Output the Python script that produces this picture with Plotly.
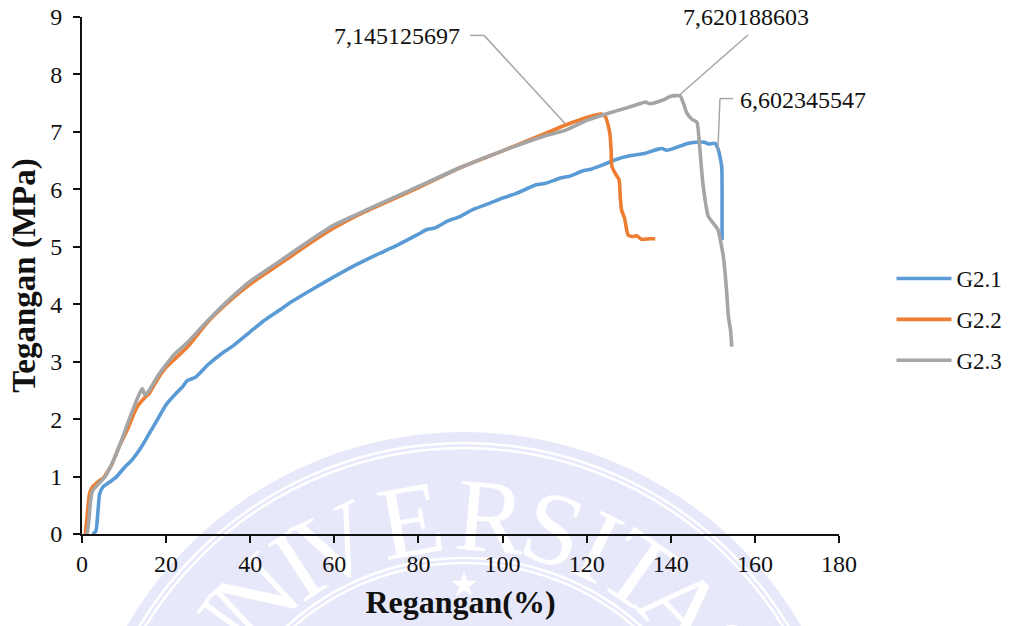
import math
import plotly.graph_objects as go

g21_x = [2.5,3.3,3.8,4.2,5,6.5,8,10,12,14,16,18,20,22,24,25,27,30,33,36,40,43,47,50,55,60,65,70,75,80,82,84,87,90,93,97,100,103,107,108,110,114,116,119,121,124,127,130,134,137,138,139,141,144,146,148,149,150.5,151.3,152.1,152.2,152.2]
g21_y = [0,0.05,0.4,0.7,0.82,0.9,0.98,1.15,1.3,1.5,1.75,2.0,2.25,2.42,2.57,2.67,2.73,2.95,3.13,3.28,3.52,3.7,3.9,4.05,4.27,4.48,4.68,4.86,5.03,5.22,5.3,5.33,5.45,5.53,5.65,5.76,5.85,5.92,6.05,6.08,6.1,6.2,6.23,6.32,6.35,6.43,6.52,6.58,6.63,6.7,6.71,6.68,6.72,6.8,6.82,6.82,6.79,6.8,6.69,6.4,5.6,5.12]
g22_x = [0.8,1.2,1.8,2.5,4,5,7,9,11,13,15,16,18,20,25,30,35,40,45,50,55,60,65,70,80,90,100,110,115,120,122,123.5,124.5,125.5,125.8,126,127,127.7,128,128.3,129,129.5,129.9,131,132,133,135,136.3]
g22_y = [0,0.3,0.7,0.82,0.92,0.97,1.2,1.55,1.85,2.2,2.38,2.45,2.7,2.9,3.25,3.7,4.05,4.35,4.6,4.85,5.1,5.33,5.53,5.7,6.03,6.38,6.67,6.97,7.12,7.25,7.29,7.31,7.26,6.98,6.7,6.4,6.25,6.17,5.85,5.64,5.5,5.3,5.2,5.18,5.19,5.13,5.14,5.14]
g23_x = [1.2,1.6,2,2.5,4,5.5,7,9,11,13,14.3,15,16,18,20,22,25,30,35,40,45,50,55,60,65,70,80,90,100,110,115,120,125,130,133,134,135,138,140,142.2,143,143.8,145,146.2,146.8,147.4,147.8,148.9,150,151.2,152.5,153.2,153.7,154.2,154.5]
g23_y = [0,0.2,0.55,0.75,0.88,1.0,1.2,1.55,1.95,2.33,2.53,2.42,2.5,2.75,2.95,3.13,3.33,3.72,4.08,4.4,4.65,4.9,5.15,5.38,5.55,5.72,6.05,6.38,6.67,6.93,7.03,7.2,7.32,7.43,7.5,7.52,7.49,7.55,7.62,7.63,7.5,7.33,7.22,7.17,6.8,6.28,6.0,5.53,5.42,5.3,4.83,4.3,3.79,3.55,3.26]

x_ticks = list(range(0, 181, 20))
y_ticks = list(range(0, 10))
callout_texts = ["7,145125697", "7,620188603", "6,602345547"]
callout_label_x = [75, 157.9, 171.5]
callout_label_y = [8.67, 9.0, 7.56]
callout_leader_x = [[92.3, 95.6, 114.9], [158.4, 142.2], [154.8, 151.7, 151.2]]
callout_leader_y = [[8.68, 8.68, 7.14], [8.69, 7.65], [7.58, 7.58, 6.69]]
seal_letters = list("UNIVERSITAS")
seal_angles = [-54, -43, -33, -25, -10, 5, 17, 26, 35, 45.5, 57]

FONT = "Liberation Serif"
L, R, T, B = 82, 839, 17, 534
def px(v): return (v - L) / (R - L)
def py(v): return (B - v) / (B - T)

shapes = []
CX, CY = 464, 822
SEAL = "#E7E8FA"
def circle(r, fill=None, line=None, w=0):
    shapes.append(dict(type="circle", xref="paper", yref="paper", layer="below",
                       x0=px(CX - r), x1=px(CX + r), y0=py(CY + r), y1=py(CY - r),
                       fillcolor=fill or "rgba(0,0,0,0)",
                       line=dict(color=line or "rgba(0,0,0,0)", width=w)))
circle(390, fill=SEAL)
circle(379, line="white", w=2.5)
circle(374, line="white", w=2.5)
circle(264, line="white", w=2.5)
circle(259, line="white", w=2.5)

for ch, a in zip(seal_letters, seal_angles):
    r = 318
    cx = CX + r * math.sin(math.radians(a))
    cy = CY - r * math.cos(math.radians(a))
    shapes.append(dict(type="rect", xref="paper", yref="paper", layer="below",
                       x0=px(cx - 40), x1=px(cx + 40), y0=py(cy + 50), y1=py(cy - 50),
                       line=dict(width=0), fillcolor="rgba(0,0,0,0)",
                       label=dict(text=ch, textangle=a, textposition="middle center",
                                  font=dict(family=FONT, size=104, color="white"))))
shapes.append(dict(type="rect", xref="paper", yref="paper", layer="below",
                   x0=px(CX - 30), x1=px(CX + 30), y0=py(CY - 210), y1=py(CY - 270),
                   line=dict(width=0), fillcolor="rgba(0,0,0,0)",
                   label=dict(text="★", textposition="middle center",
                              font=dict(family="DejaVu Sans", size=34, color="white"))))

for lx, ly in zip(callout_leader_x, callout_leader_y):
    for i in range(len(lx) - 1):
        shapes.append(dict(type="line", xref="x", yref="y", layer="above",
                           x0=lx[i], y0=ly[i], x1=lx[i + 1], y1=ly[i + 1],
                           line=dict(color="#A6A6A6", width=1.5)))

fig = go.Figure()
for name, xs, ys, color in [("G2.1", g21_x, g21_y, "#5B9BD5"),
                            ("G2.2", g22_x, g22_y, "#ED7D31"),
                            ("G2.3", g23_x, g23_y, "#A5A5A5")]:
    fig.add_trace(go.Scatter(x=xs, y=ys, name=name, mode="lines", legendgroup=name,
                             line=dict(color=color, width=3.6, shape="spline", smoothing=0.5),
                             cliponaxis=False))

annotations = [dict(x=a, y=b, xref="x", yref="y", text=t, showarrow=False,
                    xanchor="center", yanchor="middle",
                    font=dict(family=FONT, size=24, color="#111111"))
               for a, b, t in zip(callout_label_x, callout_label_y, callout_texts)]

axis = dict(showgrid=False, zeroline=False, showline=True, linecolor="#111111", linewidth=2,
            ticks="outside", ticklen=7, tickwidth=1.5, tickcolor="#111111", automargin=False,
            tickfont=dict(family=FONT, size=24, color="#111111"))

fig.update_layout(
    width=1010, height=626,
    margin=dict(l=L, r=1010 - R, t=T, b=626 - B, pad=0, autoexpand=False),
    paper_bgcolor="white", plot_bgcolor="rgba(0,0,0,0)",
    shapes=shapes, annotations=annotations,
    xaxis=dict(axis, range=[0, 180], tickvals=x_ticks, ticklabelstandoff=0,
               title=dict(text="<b>Regangan(%)</b>", standoff=15,
                          font=dict(family=FONT, size=32, color="#111111"))),
    yaxis=dict(axis, range=[0, 9], tickvals=y_ticks, ticklabelstandoff=6,
               title=dict(text="<b>Tegangan (MPa)</b>", standoff=5,
                          font=dict(family=FONT, size=33, color="#111111"))),
    legend=dict(x=(891.5 - L) / (R - L), y=py(257), xanchor="left", yanchor="top",
                font=dict(family=FONT, size=23, color="#111111"),
                itemwidth=55, tracegroupgap=8, bgcolor="rgba(0,0,0,0)"),
)
fig.write_html("out.html", config={"displayModeBar": False},
               post_script="document.body.style.margin='0';")
